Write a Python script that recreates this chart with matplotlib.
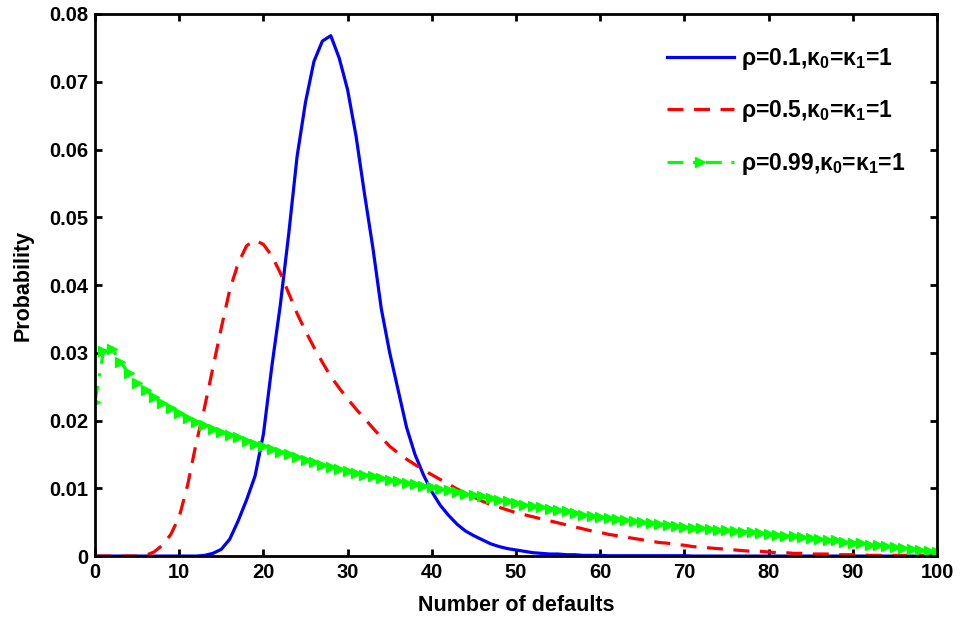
import matplotlib
matplotlib.use("Agg")
import matplotlib.pyplot as plt
import numpy as np

plt.rcParams['font.family'] = ['Liberation Sans', 'DejaVu Sans']
plt.rcParams['font.weight'] = 'bold'
plt.rcParams['mathtext.fontset'] = 'custom'
plt.rcParams['mathtext.rm'] = 'Liberation Sans:bold'
plt.rcParams['mathtext.bf'] = 'Liberation Sans:bold'
plt.rcParams['mathtext.it'] = 'Liberation Sans:bold'

x_defaults = list(range(0, 101))

blue_rho01 = [0.0] * 13 + [
    0.0001, 0.0004, 0.0010, 0.0025, 0.0052, 0.0083, 0.0118, 0.0180,    # 13-20
    0.0280, 0.0370, 0.0475, 0.0590, 0.0670, 0.0730, 0.0760, 0.0768,    # 21-28
    0.0735, 0.0688, 0.0620, 0.0535, 0.0455, 0.0365, 0.0300, 0.0245,    # 29-36
    0.0190, 0.0150, 0.0120, 0.0095, 0.0075, 0.0060, 0.0047, 0.0037,    # 37-44
    0.0030, 0.0024, 0.0018, 0.0014, 0.0011, 0.0009, 0.0007, 0.0005,    # 45-52
    0.0004, 0.0003, 0.0003, 0.0002, 0.0002, 0.0001, 0.0001, 0.0001,    # 53-60
] + [0.00005] * 10 + [0.0] * 30

red_rho05 = [
    0.0, 0.0, 0.0, 0.0, 0.0, 0.0, 0.0001, 0.0006, 0.0016, 0.0032,      # 0-9
    0.0058, 0.0105, 0.0166, 0.0219, 0.0278, 0.0337, 0.0393, 0.0432,    # 10-17
    0.0458, 0.0466, 0.0460, 0.0443, 0.0418, 0.0388, 0.0358, 0.0332,    # 18-25
    0.0308, 0.0286, 0.0265, 0.0248, 0.0232, 0.0217, 0.0203, 0.0189,    # 26-33
    0.0175, 0.0162, 0.0152, 0.0143, 0.0135, 0.0127, 0.0120, 0.0113,    # 34-41
    0.0106, 0.0099, 0.0093, 0.0087, 0.0081, 0.0076, 0.0072, 0.0068,    # 42-49
    0.0064, 0.0061, 0.0058, 0.0055, 0.0052, 0.0049, 0.0046, 0.0043,    # 50-57
    0.0040, 0.0037, 0.0035, 0.0032, 0.0030, 0.0028, 0.0026, 0.0024,    # 58-65
    0.0022, 0.0020, 0.0019, 0.0017, 0.0016, 0.0014, 0.0013, 0.0012,    # 66-73
    0.0011, 0.0010, 0.0009, 0.0008, 0.0007, 0.0007, 0.0006, 0.0005,    # 74-81
    0.0005, 0.0004, 0.0004, 0.0003, 0.0003, 0.0003, 0.0002, 0.0002,    # 82-89
    0.0002, 0.0002, 0.0001, 0.0001, 0.0001, 0.0001, 0.0001, 0.0001,    # 90-97
    0.0001, 0.0001, 0.0001,                                            # 98-100
]

green_rho099 = [
    0.0228, 0.0302, 0.0306, 0.0287, 0.0270, 0.0256, 0.0245, 0.0235,    # 0-7
    0.0226, 0.0218, 0.0211, 0.0204, 0.0198, 0.0193, 0.0188, 0.0183,    # 8-15
    0.0179, 0.0175, 0.0170, 0.0166, 0.0162, 0.0158, 0.0154, 0.0150,    # 16-23
    0.0146, 0.0142, 0.0139, 0.0135, 0.0132, 0.0129, 0.0126, 0.0123,    # 24-31
    0.0120, 0.0118, 0.0115, 0.0113, 0.0111, 0.0108, 0.0106, 0.0104,    # 32-39
    0.0102, 0.0099, 0.0097, 0.0095, 0.0092, 0.0090, 0.0088, 0.0085,    # 40-47
    0.0083, 0.0081, 0.0079, 0.0076, 0.0074, 0.0072, 0.0070, 0.0068,    # 48-55
    0.0066, 0.0063, 0.0061, 0.0059, 0.0058, 0.0056, 0.0055, 0.0053,    # 56-63
    0.0052, 0.0050, 0.0049, 0.0047, 0.0046, 0.0045, 0.0043, 0.0042,    # 64-71
    0.0041, 0.0040, 0.0039, 0.0038, 0.0037, 0.0036, 0.0035, 0.0034,    # 72-79
    0.0033, 0.0031, 0.0030, 0.0029, 0.0028, 0.0027, 0.0025, 0.0024,    # 80-87
    0.0023, 0.0021, 0.0020, 0.0019, 0.0017, 0.0016, 0.0015, 0.0013,    # 88-95
    0.0012, 0.0010, 0.0009, 0.0007, 0.0006,                            # 96-100
]

labels = [r'ρ=0.1,κ$_0$=κ$_1$=1', r'ρ=0.5,κ$_0$=κ$_1$=1', r'ρ=0.99,κ$_0$=κ$_1$=1']
x_ticks = list(range(0, 101, 10))
y_ticks = [0, 0.01, 0.02, 0.03, 0.04, 0.05, 0.06, 0.07, 0.08]
y_tick_labels = ['0', '0.01', '0.02', '0.03', '0.04', '0.05', '0.06', '0.07', '0.08']

fig = plt.figure(figsize=(9.6, 6.22), dpi=100)
ax = fig.add_axes([0.099, 0.106, 0.877, 0.8715])

ax.plot(x_defaults, blue_rho01, color=(0, 0, 1), lw=2.3, label=labels[0])
ax.plot(x_defaults, red_rho05, color=(1, 0, 0), lw=2.3, dashes=(5, 3.3), label=labels[1])
ax.plot(x_defaults, green_rho099, color=(0, 1, 0), lw=2.3, dashes=(5, 3, 1, 3),
        marker='>', markersize=7.5, markerfacecolor=(0, 1, 0), markeredgecolor=(0, 1, 0),
        label=labels[2])

ax.set_xlim(0, 100)
ax.set_ylim(0, 0.08)
ax.set_xticks(x_ticks)
ax.set_xticklabels([str(t) for t in x_ticks])
ax.set_yticks(y_ticks)
ax.set_yticklabels(y_tick_labels)
ax.tick_params(direction='in', length=5, width=2, labelsize=14.5, top=True, right=True, pad=5)
for lab in ax.get_xticklabels() + ax.get_yticklabels():
    lab.set_fontweight('bold')
for s in ax.spines.values():
    s.set_linewidth(2)

ax.set_xlabel('Number of defaults', fontsize=15.5, fontweight='bold', labelpad=9)
ax.set_ylabel('Probability', fontsize=15.5, fontweight='bold', labelpad=11)

leg = ax.legend(loc='upper right', frameon=False, fontsize=16.5, handlelength=2.9,
                handletextpad=0.3, labelspacing=1.15, borderaxespad=1.0)
for t in leg.get_texts():
    t.set_fontweight('bold')

fig.savefig('out.png', dpi=100)
